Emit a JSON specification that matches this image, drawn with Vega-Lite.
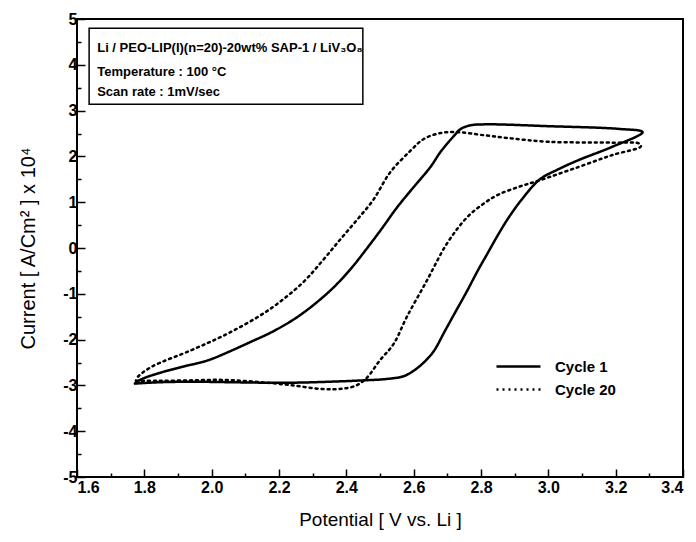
{
  "$schema": "https://vega.github.io/schema/vega-lite/v6.json",
  "width": 606,
  "height": 458,
  "autosize": "none",
  "padding": {"left": 77, "top": 19, "right": 13, "bottom": 65},
  "config": {
    "view": {"stroke": "black", "strokeWidth": 2},
    "font": "Liberation Sans",
    "axis": {"grid": false, "domain": false, "tickColor": "black", "labelColor": "black", "titleColor": "black", "tickWidth": 1.5,
      "labelFont": "Liberation Sans", "labelFontSize": 16, "labelFontWeight": "bold"}
  },
  "datasets": {
    "cv": [
      {"cycle": "Cycle 1", "k": 0, "v": 1.772, "c": -2.96},
      {"cycle": "Cycle 1", "k": 1, "v": 1.85, "c": -2.93},
      {"cycle": "Cycle 1", "k": 2, "v": 1.95, "c": -2.92},
      {"cycle": "Cycle 1", "k": 3, "v": 2.05, "c": -2.93},
      {"cycle": "Cycle 1", "k": 4, "v": 2.15, "c": -2.94},
      {"cycle": "Cycle 1", "k": 5, "v": 2.25, "c": -2.94},
      {"cycle": "Cycle 1", "k": 6, "v": 2.35, "c": -2.92},
      {"cycle": "Cycle 1", "k": 7, "v": 2.45, "c": -2.89},
      {"cycle": "Cycle 1", "k": 8, "v": 2.52, "c": -2.86},
      {"cycle": "Cycle 1", "k": 9, "v": 2.57, "c": -2.8},
      {"cycle": "Cycle 1", "k": 10, "v": 2.6, "c": -2.68},
      {"cycle": "Cycle 1", "k": 11, "v": 2.63, "c": -2.5},
      {"cycle": "Cycle 1", "k": 12, "v": 2.66, "c": -2.25},
      {"cycle": "Cycle 1", "k": 13, "v": 2.69, "c": -1.85},
      {"cycle": "Cycle 1", "k": 14, "v": 2.72, "c": -1.45},
      {"cycle": "Cycle 1", "k": 15, "v": 2.76, "c": -0.92},
      {"cycle": "Cycle 1", "k": 16, "v": 2.79, "c": -0.5},
      {"cycle": "Cycle 1", "k": 17, "v": 2.82, "c": -0.11},
      {"cycle": "Cycle 1", "k": 18, "v": 2.85, "c": 0.28},
      {"cycle": "Cycle 1", "k": 19, "v": 2.88, "c": 0.64},
      {"cycle": "Cycle 1", "k": 20, "v": 2.92, "c": 1.05},
      {"cycle": "Cycle 1", "k": 21, "v": 2.975, "c": 1.5},
      {"cycle": "Cycle 1", "k": 22, "v": 3.03, "c": 1.72},
      {"cycle": "Cycle 1", "k": 23, "v": 3.09, "c": 1.92},
      {"cycle": "Cycle 1", "k": 24, "v": 3.19, "c": 2.21},
      {"cycle": "Cycle 1", "k": 25, "v": 3.28, "c": 2.53},
      {"cycle": "Cycle 1", "k": 26, "v": 3.21, "c": 2.6},
      {"cycle": "Cycle 1", "k": 27, "v": 3.0, "c": 2.66},
      {"cycle": "Cycle 1", "k": 28, "v": 2.82, "c": 2.7},
      {"cycle": "Cycle 1", "k": 29, "v": 2.77, "c": 2.68},
      {"cycle": "Cycle 1", "k": 30, "v": 2.74, "c": 2.6},
      {"cycle": "Cycle 1", "k": 31, "v": 2.72, "c": 2.45},
      {"cycle": "Cycle 1", "k": 32, "v": 2.68, "c": 2.1},
      {"cycle": "Cycle 1", "k": 33, "v": 2.65, "c": 1.77},
      {"cycle": "Cycle 1", "k": 34, "v": 2.6, "c": 1.33},
      {"cycle": "Cycle 1", "k": 35, "v": 2.55, "c": 0.88},
      {"cycle": "Cycle 1", "k": 36, "v": 2.505, "c": 0.42},
      {"cycle": "Cycle 1", "k": 37, "v": 2.46, "c": -0.02},
      {"cycle": "Cycle 1", "k": 38, "v": 2.415, "c": -0.44},
      {"cycle": "Cycle 1", "k": 39, "v": 2.365, "c": -0.84},
      {"cycle": "Cycle 1", "k": 40, "v": 2.31, "c": -1.2},
      {"cycle": "Cycle 1", "k": 41, "v": 2.25, "c": -1.53},
      {"cycle": "Cycle 1", "k": 42, "v": 2.18, "c": -1.83},
      {"cycle": "Cycle 1", "k": 43, "v": 2.11, "c": -2.07},
      {"cycle": "Cycle 1", "k": 44, "v": 2.05, "c": -2.27},
      {"cycle": "Cycle 1", "k": 45, "v": 1.99, "c": -2.45},
      {"cycle": "Cycle 1", "k": 46, "v": 1.91, "c": -2.6},
      {"cycle": "Cycle 1", "k": 47, "v": 1.84, "c": -2.74},
      {"cycle": "Cycle 1", "k": 48, "v": 1.79, "c": -2.87},
      {"cycle": "Cycle 1", "k": 49, "v": 1.772, "c": -2.96},
      {"cycle": "Cycle 20", "k": 0, "v": 1.775, "c": -2.9},
      {"cycle": "Cycle 20", "k": 1, "v": 1.84, "c": -2.9},
      {"cycle": "Cycle 20", "k": 2, "v": 1.94, "c": -2.89},
      {"cycle": "Cycle 20", "k": 3, "v": 2.03, "c": -2.88},
      {"cycle": "Cycle 20", "k": 4, "v": 2.13, "c": -2.92},
      {"cycle": "Cycle 20", "k": 5, "v": 2.23, "c": -2.99},
      {"cycle": "Cycle 20", "k": 6, "v": 2.33, "c": -3.08},
      {"cycle": "Cycle 20", "k": 7, "v": 2.39, "c": -3.07},
      {"cycle": "Cycle 20", "k": 8, "v": 2.43, "c": -3.0},
      {"cycle": "Cycle 20", "k": 9, "v": 2.46, "c": -2.84},
      {"cycle": "Cycle 20", "k": 10, "v": 2.5, "c": -2.45},
      {"cycle": "Cycle 20", "k": 11, "v": 2.54, "c": -2.1},
      {"cycle": "Cycle 20", "k": 12, "v": 2.58, "c": -1.5},
      {"cycle": "Cycle 20", "k": 13, "v": 2.64, "c": -0.7},
      {"cycle": "Cycle 20", "k": 14, "v": 2.7, "c": 0.11},
      {"cycle": "Cycle 20", "k": 15, "v": 2.76, "c": 0.68},
      {"cycle": "Cycle 20", "k": 16, "v": 2.81, "c": 0.98},
      {"cycle": "Cycle 20", "k": 17, "v": 2.85, "c": 1.16},
      {"cycle": "Cycle 20", "k": 18, "v": 2.91, "c": 1.33},
      {"cycle": "Cycle 20", "k": 19, "v": 2.975, "c": 1.48},
      {"cycle": "Cycle 20", "k": 20, "v": 3.09, "c": 1.77},
      {"cycle": "Cycle 20", "k": 21, "v": 3.19, "c": 2.03},
      {"cycle": "Cycle 20", "k": 22, "v": 3.275, "c": 2.22},
      {"cycle": "Cycle 20", "k": 23, "v": 3.27, "c": 2.28},
      {"cycle": "Cycle 20", "k": 24, "v": 3.19, "c": 2.3},
      {"cycle": "Cycle 20", "k": 25, "v": 3.0, "c": 2.32},
      {"cycle": "Cycle 20", "k": 26, "v": 2.88, "c": 2.4},
      {"cycle": "Cycle 20", "k": 27, "v": 2.8, "c": 2.47},
      {"cycle": "Cycle 20", "k": 28, "v": 2.73, "c": 2.53},
      {"cycle": "Cycle 20", "k": 29, "v": 2.68, "c": 2.51},
      {"cycle": "Cycle 20", "k": 30, "v": 2.63, "c": 2.38},
      {"cycle": "Cycle 20", "k": 31, "v": 2.59, "c": 2.12},
      {"cycle": "Cycle 20", "k": 32, "v": 2.53, "c": 1.65},
      {"cycle": "Cycle 20", "k": 33, "v": 2.48, "c": 1.05},
      {"cycle": "Cycle 20", "k": 34, "v": 2.43, "c": 0.6},
      {"cycle": "Cycle 20", "k": 35, "v": 2.38, "c": 0.17},
      {"cycle": "Cycle 20", "k": 36, "v": 2.33, "c": -0.27},
      {"cycle": "Cycle 20", "k": 37, "v": 2.27, "c": -0.76},
      {"cycle": "Cycle 20", "k": 38, "v": 2.17, "c": -1.35},
      {"cycle": "Cycle 20", "k": 39, "v": 2.05, "c": -1.86},
      {"cycle": "Cycle 20", "k": 40, "v": 1.94, "c": -2.23},
      {"cycle": "Cycle 20", "k": 41, "v": 1.82, "c": -2.6},
      {"cycle": "Cycle 20", "k": 42, "v": 1.78, "c": -2.82},
      {"cycle": "Cycle 20", "k": 43, "v": 1.775, "c": -2.9}
    ]
  },
  "data": {"name": "cv"},
  "resolve": {"axis": {"x": "independent", "y": "independent"}},
  "layer": [
    {
      "transform": [{"filter": "datum.k == 0 && datum.cycle == 'Cycle 1'"}],
      "mark": {"type": "rect", "fill": "white", "stroke": "black", "strokeWidth": 1.5},
      "encoding": {
        "x": {"datum": 1.636, "type": "quantitative", "scale": {"domain": [1.6, 3.4], "nice": false, "zero": false},
          "axis": {"values": [1.7, 1.9, 2.1, 2.3, 2.5, 2.7, 2.9, 3.1, 3.3], "tickSize": -4, "labels": false, "title": null, "orient": "bottom"}},
        "x2": {"datum": 2.449},
        "y": {"datum": 4.8, "type": "quantitative", "scale": {"domain": [-5, 5], "nice": false, "zero": false},
          "axis": {"values": [-4.5, -3.5, -2.5, -1.5, -0.5, 0.5, 1.5, 2.5, 3.5, 4.5], "tickSize": -4, "labels": false, "title": null, "orient": "left"}},
        "y2": {"datum": 3.14}
      }
    },
    {
      "mark": {"type": "line", "color": "black", "strokeWidth": 2.5, "strokeCap": "round", "interpolate": "catmull-rom"},
      "encoding": {
        "x": {"field": "v", "type": "quantitative", "scale": {"domain": [1.6, 3.4], "nice": false, "zero": false},
          "axis": {"values": [1.6, 1.8, 2.0, 2.2, 2.4, 2.6, 2.8, 3.0, 3.2, 3.4], "format": ".1f", "tickSize": -8,
            "labelFontSize": 16, "labelFontWeight": "bold", "labelPadding": 10,
            "encode": {"labels": {"update": {"fontSize": {"value": 16}, "fontWeight": {"value": "bold"}, "fill": {"value": "black"}}}},
            "title": "Potential [ V vs. Li ]", "titleFontSize": 19, "titleFontWeight": "normal", "titlePadding": 15, "orient": "bottom"}},
        "y": {"field": "c", "type": "quantitative", "scale": {"domain": [-5, 5], "nice": false, "zero": false},
          "axis": {"values": [-5, -4, -3, -2, -1, 0, 1, 2, 3, 4, 5], "labelExpr": "'' + datum.value", "tickSize": -8,
            "labelFontSize": 16, "labelFontWeight": "bold", "labelPadding": 8,
            "encode": {"labels": {"update": {"fontSize": {"value": 16}, "fontWeight": {"value": "bold"}, "fill": {"value": "black"}}}},
            "title": "Current [ A/Cm² ] x 10⁴", "titleFontSize": 20, "titleFontWeight": "normal", "titlePadding": 24, "orient": "left"}},
        "order": {"field": "k", "type": "quantitative"},
        "detail": {"field": "cycle"},
        "strokeDash": {"field": "cycle", "type": "nominal",
          "scale": {"domain": ["Cycle 1", "Cycle 20"], "range": [[1, 0], [2, 4]]},
          "legend": {"title": null, "orient": "none", "legendX": 429, "legendY": 335, "symbolType": "M-2,0H2", "symbolSize": 484,
            "symbolStrokeWidth": 2.5, "symbolStrokeColor": "black", "labelFontSize": 15, "labelFontWeight": "bold", "labelColor": "black",
            "rowPadding": 2, "labelOffset": 24}}
      }
    },
    {
      "transform": [{"filter": "datum.k == 0 && datum.cycle == 'Cycle 1'"}],
      "mark": {"type": "text", "align": "left", "baseline": "middle", "fontSize": 13, "fontWeight": "bold", "color": "black"},
      "encoding": {
        "x": {"datum": 1.66, "type": "quantitative", "axis": null},
        "y": {"datum": 4.37, "type": "quantitative", "axis": null},
        "text": {"value": "Li / PEO-LIP(I)(n=20)-20wt% SAP-1 / LiV₃O₈"}
      }
    },
    {
      "transform": [{"filter": "datum.k == 0 && datum.cycle == 'Cycle 1'"}],
      "mark": {"type": "text", "align": "left", "baseline": "middle", "fontSize": 13, "fontWeight": "bold", "color": "black"},
      "encoding": {
        "x": {"datum": 1.66, "type": "quantitative", "axis": null},
        "y": {"datum": 3.85, "type": "quantitative", "axis": null},
        "text": {"value": "Temperature : 100 °C"}
      }
    },
    {
      "transform": [{"filter": "datum.k == 0 && datum.cycle == 'Cycle 1'"}],
      "mark": {"type": "text", "align": "left", "baseline": "middle", "fontSize": 13, "fontWeight": "bold", "color": "black"},
      "encoding": {
        "x": {"datum": 1.66, "type": "quantitative", "axis": null},
        "y": {"datum": 3.4, "type": "quantitative", "axis": null},
        "text": {"value": "Scan rate : 1mV/sec"}
      }
    }
  ]
}
